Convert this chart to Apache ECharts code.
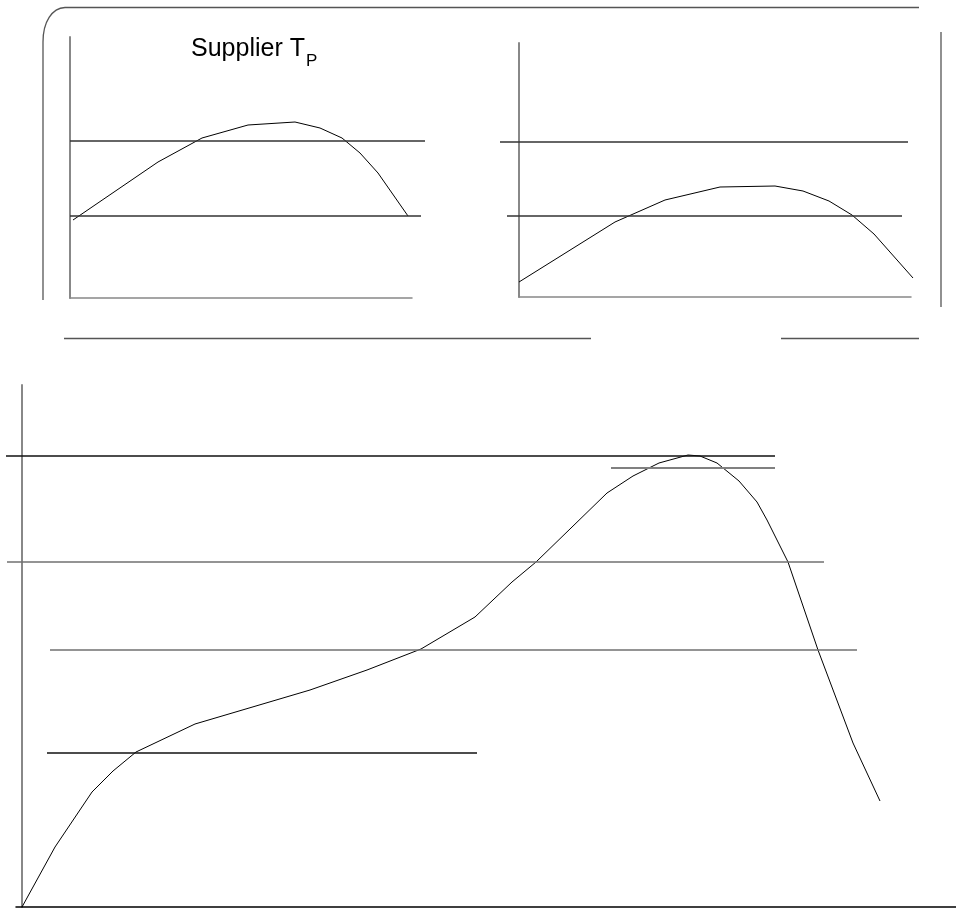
<!DOCTYPE html>
<html lang="en">
<head>
    <meta charset="UTF-8">
    <title>Supplier TP</title>
    <script src="https://cdn.jsdelivr.net/npm/echarts@6/dist/echarts.min.js"></script>
    <style>
        html, body { margin: 0; padding: 0; background: #fff; }
        #main { width: 956px; height: 909px; }
    </style>
</head>
<body>
<div id="main"></div>
<script>
    // supplier profile (top left)
    var supTime = [3, 88, 132, 178, 225, 250, 272, 290, 308, 338];
    var supTemp = [78, 136, 160, 173, 176, 170, 160, 145, 125, 82];
    var supLevels = [157, 82];
    var supLevelFrom = [0, 0];
    var supLevelTo = [355, 351];

    // second small profile (top right)
    var userTime = [0, 96, 146, 201, 256, 284, 310, 333, 355, 394];
    var userTemp = [15, 75, 97, 110, 111, 106, 96, 82, 63, 19];
    var userLevels = [155, 81];
    var userLevelFrom = [-19, -12];
    var userLevelTo = [389, 383];

    // big profile (bottom)
    var bigTime = [0, 33, 70, 91, 114, 173, 288, 345, 399, 453, 490, 514, 549, 585, 611, 637, 666, 678, 695, 717, 735, 745, 766, 796, 831, 858];
    var bigTemp = [0, 60, 115, 136, 155, 183, 217, 237, 258, 290, 325, 345, 379, 414, 431, 444, 452, 451, 444, 426, 405, 387, 345, 257, 164, 106];
    var bigLevels = [451, 439, 345, 257, 154];
    var bigLevelFrom = [-16, 589, -15, 28, 25];
    var bigLevelTo = [753, 753, 802, 835, 455];

    // look of the level lines
    var smallLevelColor = ['#333', '#333'];
    var bigLevelColor = ['#111', '#808080', '#707070', '#707070', '#111'];
    var bigLevelWidth = [1.3, 2, 1.5, 1.5, 1.3];

    function pairs(xs, ys) {
        var out = [];
        for (var i = 0; i < xs.length; i++) {
            out.push([xs[i], ys[i]]);
        }
        return out;
    }

    function curve(idx, xs, ys) {
        return {
            type: 'line',
            xAxisIndex: idx,
            yAxisIndex: idx,
            data: pairs(xs, ys),
            symbol: 'none',
            silent: true,
            lineStyle: { color: '#000', width: 1 }
        };
    }

    function levels(idx, ys, from, to, colors, widths) {
        var list = [];
        for (var i = 0; i < ys.length; i++) {
            list.push({
                type: 'line',
                xAxisIndex: idx,
                yAxisIndex: idx,
                data: [[from[i], ys[i]], [to[i], ys[i]]],
                symbol: 'none',
                silent: true,
                lineStyle: { color: colors[i], width: widths ? widths[i] : 1.3 }
            });
        }
        return list;
    }

    var hidden = { show: false };

    // axes of the data grids: no line, just the scale
    function scaleX(idx, min, max) {
        return { gridIndex: idx, type: 'value', min: min, max: max, axisLine: hidden, axisTick: hidden, axisLabel: hidden, splitLine: hidden };
    }
    function scaleY(idx, max) {
        return { gridIndex: idx, type: 'value', min: 0, max: max, axisLine: hidden, axisTick: hidden, axisLabel: hidden, splitLine: hidden };
    }

    // axes that are drawn
    function axisX(idx, min, max, color) {
        return {
            gridIndex: idx, type: 'value', min: min, max: max,
            axisLine: { onZero: true, lineStyle: { color: color, width: 1.5 } },
            axisTick: hidden, axisLabel: hidden, splitLine: hidden
        };
    }
    function axisY(idx, max) {
        return {
            gridIndex: idx, type: 'value', min: 0, max: max,
            axisLine: { show: true, onZero: true, lineStyle: { color: '#888', width: 2 } },
            axisTick: hidden, axisLabel: hidden, splitLine: hidden
        };
    }

    var frame = { stroke: '#555', lineWidth: 1.3, fill: null };

    var myChart = echarts.init(document.getElementById('main'));

    var series = [];
    series.push(curve(0, supTime, supTemp));
    series = series.concat(levels(0, supLevels, supLevelFrom, supLevelTo, smallLevelColor));
    series.push(curve(1, userTime, userTemp));
    series = series.concat(levels(1, userLevels, userLevelFrom, userLevelTo, smallLevelColor));
    series.push(curve(2, bigTime, bigTemp));
    series = series.concat(levels(2, bigLevels, bigLevelFrom, bigLevelTo, bigLevelColor, bigLevelWidth));

    var option = {
        backgroundColor: '#fff',
        animation: false,
        title: [
            {
                text: 'Supplier T', left: 191, top: 37, padding: 0,
                textStyle: { fontFamily: 'Liberation Sans', fontSize: 25, fontWeight: 'normal', color: '#000' }
            },
            {
                text: 'P', left: 306, top: 53, padding: 0,
                textStyle: { fontFamily: 'Liberation Sans', fontSize: 17, fontWeight: 'normal', color: '#000' }
            }
        ],
        grid: [
            // data grids (1 unit = 1 px)
            { left: 70, top: 37, width: 355, height: 261 },
            { left: 500, top: 43, width: 413, height: 254 },
            { left: 6, top: 385, width: 950, height: 522 },
            // axis grids
            { left: 70, top: 37, width: 342, height: 261 },
            { left: 519, top: 43, width: 392, height: 254 },
            { left: 16, top: 385, width: 940, height: 522 }
        ],
        xAxis: [
            scaleX(0, 0, 355),
            scaleX(1, -19, 394),
            scaleX(2, -16, 934),
            axisX(3, 0, 342, '#888'),
            axisX(4, 0, 392, '#888'),
            axisX(5, -6, 934, '#000')
        ],
        yAxis: [
            scaleY(0, 261),
            scaleY(1, 254),
            scaleY(2, 522),
            axisY(3, 261),
            axisY(4, 254),
            axisY(5, 522)
        ],
        // rounded box around the two small charts
        graphic: [
            { type: 'line', silent: true, shape: { x1: 65, y1: 7.5, x2: 919, y2: 7.5 }, style: frame },
            { type: 'bezierCurve', silent: true, shape: { x1: 65, y1: 7.5, cpx1: 52, cpy1: 8, cpx2: 43, cpy2: 22, x2: 43, y2: 42 }, style: frame },
            { type: 'line', silent: true, shape: { x1: 43, y1: 42, x2: 43, y2: 300 }, style: frame },
            { type: 'line', silent: true, shape: { x1: 941, y1: 32, x2: 941, y2: 307 }, style: frame },
            { type: 'line', silent: true, shape: { x1: 64, y1: 338.5, x2: 591, y2: 338.5 }, style: frame },
            { type: 'line', silent: true, shape: { x1: 781, y1: 338.5, x2: 919, y2: 338.5 }, style: frame }
        ],
        series: series
    };

    myChart.setOption(option);
</script>
</body>
</html>
